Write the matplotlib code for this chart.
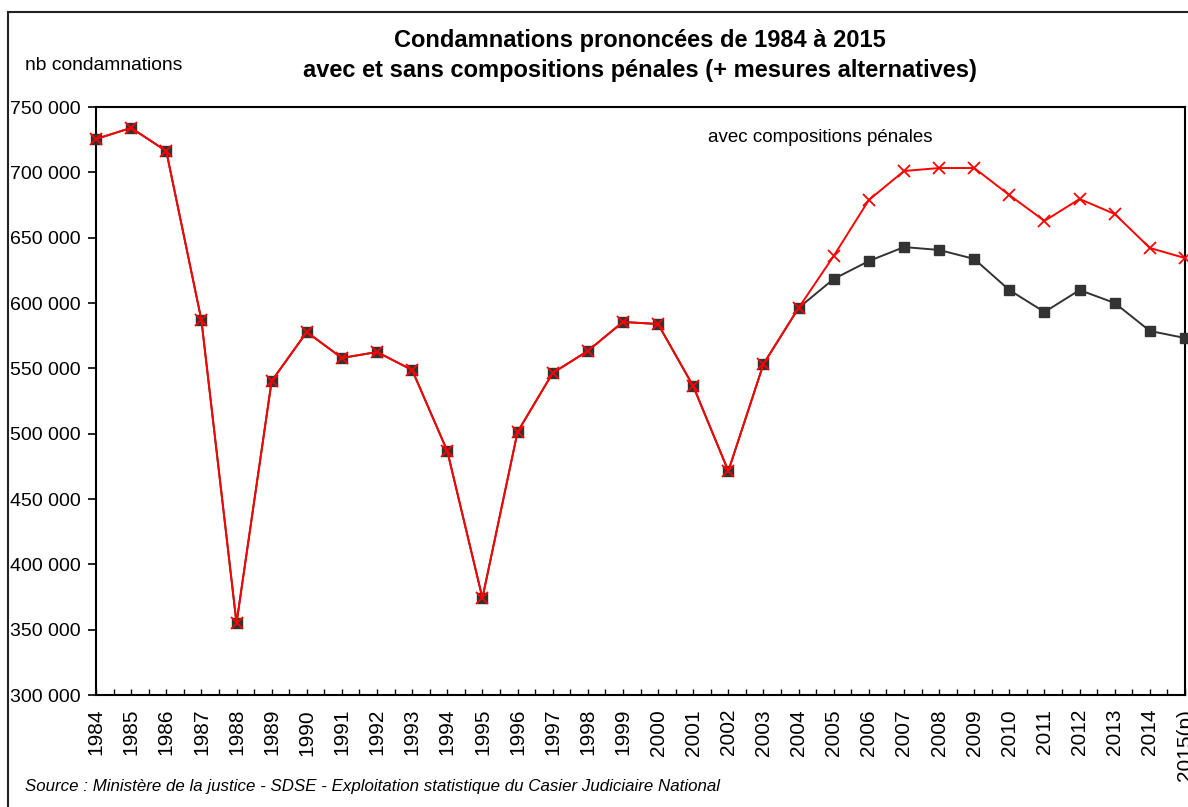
import matplotlib

matplotlib.use("Agg")
import matplotlib.pyplot as plt
from matplotlib.patches import Rectangle
from matplotlib.ticker import FuncFormatter, MultipleLocator

plt.rcParams["font.family"] = ["Liberation Sans", "DejaVu Sans"]

YEARS = [str(y) for y in range(1984, 2015)] + ["2015(p)"]

# sans compositions penales (black squares)
SANS_COMPO = [
    725500, 734000, 716300, 587000, 355100, 540300, 577800, 557900,
    562500, 548700, 486700, 374200, 501300, 546400, 563300, 585500,
    583900, 536400, 471400, 553300, 596200, 618400, 632100, 642800,
    640600, 633700, 609900, 593100, 609900, 600000, 578600, 573200,
]

# avec compositions penales (red crosses)
AVEC_COMPO = [
    725500, 734000, 716300, 587000, 355100, 540300, 577800, 557900,
    562500, 548700, 486700, 374200, 501300, 546400, 563300, 585500,
    583900, 536400, 471400, 553300, 596200, 636000, 678800, 701000,
    703300, 703300, 682600, 662800, 679600, 668100, 642100, 634400,
]

W, H = 1188, 807

fig = plt.figure(figsize=(W / 100, H / 100), dpi=100)
ax = fig.add_axes([96 / W, 1 - 695 / H, (1185 - 96) / W, (695 - 107) / H])

x = list(range(len(YEARS)))
ax.plot(x, SANS_COMPO, color="#333333", linewidth=1.4, marker="s",
        markersize=6.5, markerfacecolor="#333333", markeredgecolor="#333333",
        clip_on=False, zorder=3)
ax.plot(x, AVEC_COMPO, color="#ff0000", linewidth=1.4, marker="x",
        markersize=8, markeredgewidth=1.3, clip_on=False, zorder=4)

ax.set_xlim(0, len(YEARS) - 1)
ax.set_ylim(300000, 750000)
ax.yaxis.set_major_locator(MultipleLocator(50000))
ax.yaxis.set_major_formatter(FuncFormatter(lambda v, p: f"{v:,.0f}".replace(",", " ")))
ax.tick_params(axis="y", direction="out", length=6, width=1.2, labelsize=14, pad=5)

ax.set_xticks(x)
ax.set_xticklabels(YEARS, rotation=90, fontsize=15)
ax.set_xticks([i + 0.5 for i in x[:-1]], minor=True)
ax.tick_params(axis="x", which="both", direction="in", length=4, width=1, pad=10)

for s in ax.spines.values():
    s.set_linewidth(1.5)
    s.set_color("black")

fig.text(640 / W, 1 - 40 / H, "Condamnations prononcées de 1984 à 2015",
         ha="center", va="center", fontsize=17, fontweight="bold")
fig.text(640 / W, 1 - 70 / H, "avec et sans compositions pénales (+ mesures alternatives)",
         ha="center", va="center", fontsize=17, fontweight="bold")
fig.text(25 / W, 1 - 65 / H, "nb condamnations", ha="left", va="center", fontsize=13.9)
fig.text(708 / W, 1 - 137 / H, "avec compositions pénales", ha="left", va="center", fontsize=13.5)
fig.text(25 / W, 1 - 786 / H,
         "Source : Ministère de la justice - SDSE - Exploitation statistique du Casier Judiciaire National",
         ha="left", va="center", fontsize=12.2, style="italic")

# outer frame of the chart area
fig.patches.append(Rectangle((8 / W, -0.05), 1.2, 1 - 12 / H + 0.05,
                             transform=fig.transFigure, fill=False,
                             edgecolor="#222222", linewidth=1.5))

fig.savefig("out.png", dpi=100)
